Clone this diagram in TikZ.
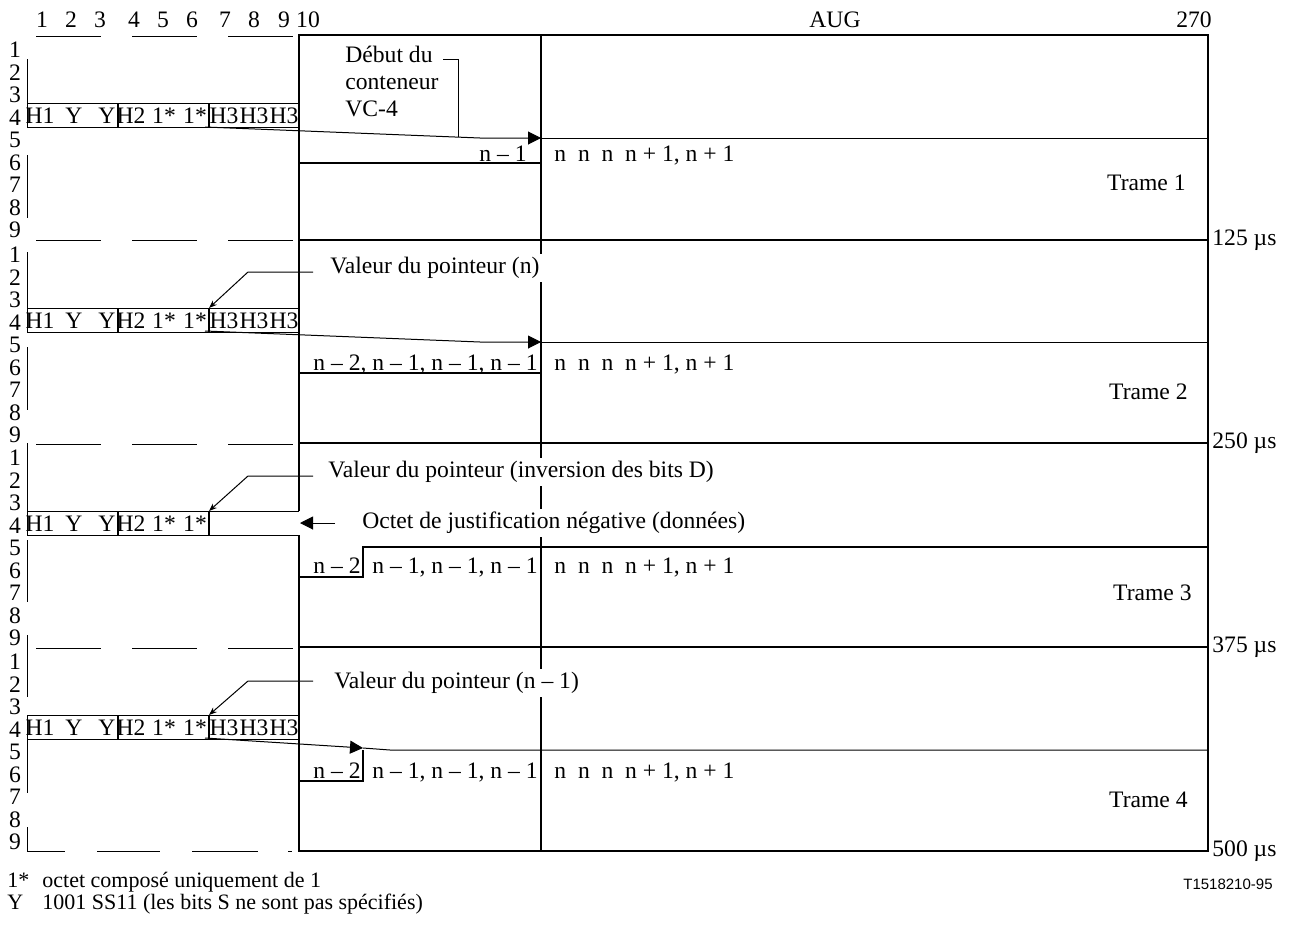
\documentclass[tikz,border=0pt]{standalone}
\usepackage{fontspec}
\setmainfont{Liberation Serif}
\newfontfamily\figsans{Liberation Sans}
\usetikzlibrary{arrows.meta, positioning}

\begin{document}
\begin{tikzpicture}[
    x=0.5pt, y=-0.5pt,
    txt/.style={inner sep=1pt, font=\fontsize{11.8}{13.5}\selectfont},
    cell/.style={inner sep=0pt, font=\fontsize{11.8}{13.5}\selectfont},
    foot/.style={inner sep=1pt, anchor=base west, font=\fontsize{11}{13}\selectfont},
    note/.style={txt, fill=white, inner sep=1.5pt, anchor=west},
    frameline/.style={line width=0.75pt},
    thickline/.style={line width=1.4pt},
    thinline/.style={line width=0.5pt},
    bigarrow/.style={-{Triangle[length=6.5pt,width=6.5pt]}, thinline},
    smallarrow/.style={-{Stealth[length=4pt,width=3pt]}, thinline}
]

\useasboundingbox (0,0) rectangle (1289,937);

\foreach \c/\x in {1/42,2/71,3/100,4/134,5/163,6/192,7/225,8/254,9/284,10/308}
    \node[txt] (col\c) at (\x,20) {\c};
\node[txt] (aug) at (835,20) {AUG};
\node[txt] (col270) at (1194,20) {270};

\foreach \t [count=\k] in {35,240,443,647} {
    \foreach \r in {1,...,9}
        \node[txt] (row\k\r) at (15,{\t+15+22.5*(\r-1)}) {\r};
}
\foreach \y in {36,240,444,648}
    \foreach \a/\b in {36/101,132/197,228/293}
        \draw[thinline] (\a,\y) -- (\b,\y);
\foreach \a/\b in {27/65,97/160,192/258,288/292}
    \draw[thinline] (\a,851) -- (\b,851);
\foreach \a/\b in {59/103,155/218,252/308,347/410,443/511,540/602,635/697,740/793,827/851}
    \draw[thinline] (27,\a) -- (27,\b);

\draw[frameline] (299,511) -- (299,35) -- (1208,35) -- (1208,851) -- (299,851) -- (299,535);
\foreach \y in {240,443,647}
    \draw[thickline] (299,\y) -- (1208,\y);
\draw[thickline] (541,35) -- (541,851);

\foreach \y/\lab in {240/125,443/250,647/375,851/500}
    \node[txt, anchor=west] (time\lab) at (1210,\y) {\lab~µs};
\foreach \k/\x/\y in {1/1188/183,2/1190/392,3/1194/593,4/1190/800}
    \node[txt, anchor=east] (trame\k) at (\x,\y) {Trame \k};

\foreach \t/\k in {35/1,240/2,647/4} {
    \draw[thinline] (27,\t+68) rectangle (299,\t+92);
    \draw[thickline] (118,\t+68) -- (118,\t+92) (209,\t+68) -- (209,\t+92);
    \foreach \lab/\x [count=\i] in {H1/40,Y/74,Y/107,H2/131,1*/164,1*/195,H3/224,H3/254,H3/284}
        \node[cell] (hdr\k\i) at (\x,\t+81) {\lab};
}
\draw[thinline] (299,511) -- (27,511) -- (27,535) -- (299,535);
\draw[thickline] (118,511) -- (118,535) (209,511) -- (209,535);
\foreach \lab/\x [count=\i] in {H1/40,Y/74,Y/107,H2/131,1*/164,1*/195}
    \node[cell] (hdr3\i) at (\x,524) {\lab};

\node[txt, align=left, anchor=north west] (debut) at (343,44) {Début du\\conteneur\\VC-4};
\coordinate (dstart) at (443,59);
\coordinate (dknee) at (458,59);
\coordinate (dfoot) at (458,137);
\draw[thinline] (dstart) -- (dknee) -- (dfoot);
\coordinate (src1) at (205,127);
\coordinate (bend1) at (480,138);
\coordinate (vc1) at (541,138);
\coordinate (end1) at (1208,138);
\draw[bigarrow] (src1) -- (bend1) -- (vc1);
\draw[thinline] (vc1) -- (end1);
\draw[thickline] (299,163) -- (541,163);
\node[txt, anchor=base east] (ptr1) at (529,161) {n – 1};
\node[txt, anchor=base west] (pay1) at (552,161) {n\enspace n\enspace n\enspace n + 1, n + 1};

\node[note] (val2) at (327,268) {Valeur du pointeur (n)};
\coordinate (lead2) at (313,272);
\coordinate (knee2) at (248,272);
\coordinate (tip2) at (209,308);
\draw[smallarrow] (lead2) -- (knee2) -- (tip2);
\coordinate (src2) at (205,331);
\coordinate (bend2) at (480,342);
\coordinate (vc2) at (541,342);
\coordinate (end2) at (1208,342);
\draw[bigarrow] (src2) -- (bend2) -- (vc2);
\draw[thinline] (vc2) -- (end2);
\draw[thickline] (299,373) -- (541,373);
\node[txt, anchor=base east] (ptr2) at (540,370) {n – 2, n – 1, n – 1, n – 1};
\node[txt, anchor=base west] (pay2) at (552,370) {n\enspace n\enspace n\enspace n + 1, n + 1};

\node[note] (val3) at (325,472) {Valeur du pointeur (inversion des bits D)};
\coordinate (lead3) at (313,476);
\coordinate (knee3) at (248,476);
\coordinate (tip3) at (209,511);
\draw[smallarrow] (lead3) -- (knee3) -- (tip3);
\node[note] (octet) at (359,523) {Octet de justification négative (données)};
\coordinate (gap3) at (300,523);
\draw[bigarrow, shorten <=12pt] (octet.west) -- (gap3);
\draw[thickline] (299,577) -- (363,577) -- (363,547) -- (1208,547);
\node[txt, anchor=base west] (old3) at (311,573) {n – 2};
\node[txt, anchor=base east] (ptr3) at (540,573) {n – 1, n – 1, n – 1};
\node[txt, anchor=base west] (pay3) at (552,573) {n\enspace n\enspace n\enspace n + 1, n + 1};

\node[note] (val4) at (331,683) {Valeur du pointeur (n – 1)};
\coordinate (lead4) at (313,681);
\coordinate (knee4) at (248,681);
\coordinate (tip4) at (209,715);
\draw[smallarrow] (lead4) -- (knee4) -- (tip4);
\coordinate (src4) at (205,738);
\coordinate (vc4) at (363,748);
\coordinate (bend4) at (390,750);
\coordinate (end4) at (1208,750);
\draw[bigarrow] (src4) -- (vc4);
\draw[thinline] (vc4) -- (bend4) -- (end4);
\draw[thickline] (299,781) -- (363,781) -- (363,750);
\node[txt, anchor=base west] (old4) at (311,778) {n – 2};
\node[txt, anchor=base east] (ptr4) at (540,778) {n – 1, n – 1, n – 1};
\node[txt, anchor=base west] (pay4) at (552,778) {n\enspace n\enspace n\enspace n + 1, n + 1};

\node[foot] (key1) at (5,887) {1*};
\node[foot] (fn1) at (40,887) {octet composé uniquement de 1};
\node[foot] (key2) at (5,909) {Y};
\node[foot] (fn2) at (40,909) {1001 SS11 (les bits S ne sont pas spécifiés)};
\node[inner sep=1pt, font=\figsans\fontsize{7.5}{9}\selectfont, anchor=east] (ref) at (1275,884) {T1518210-95};

\end{tikzpicture}
\end{document}
